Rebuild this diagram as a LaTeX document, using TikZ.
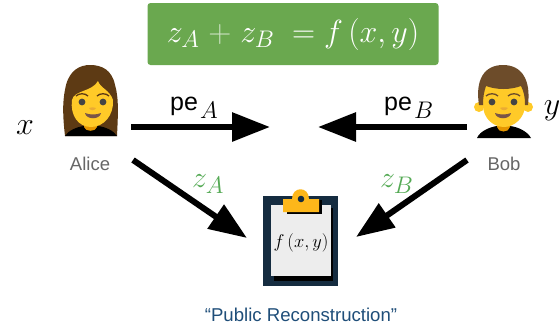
\RequirePackage{fix-cm}
\documentclass[tikz,border=0pt]{standalone}
\usepackage{fontspec}
\setmainfont{Liberation Sans}
\usepackage{amsmath}
\usetikzlibrary{arrows.meta}
\DeclareMathSizes{30}{30}{24}{18}
\DeclareMathSizes{32}{32}{24}{18}
\definecolor{banner}{HTML}{6AA84F}
\definecolor{zgreen}{HTML}{55AA55}
\definecolor{skin}{HTML}{FFCA28}
\definecolor{hairw}{HTML}{5D3A14}
\definecolor{hairm}{HTML}{6D4C2A}
\definecolor{neck}{HTML}{E59600}
\definecolor{board}{HTML}{152C40}
\definecolor{clipc}{HTML}{FDB71A}
\definecolor{paper}{HTML}{EDEDED}
\definecolor{pubblue}{HTML}{1F4E79}
\definecolor{eye}{HTML}{444444}
\definecolor{mouth}{HTML}{795548}
\tikzset{
  flow/.style={line width=6pt,-{Triangle[length=38pt,width=28pt]}},
  who/.style={font=\fontsize{18.5}{20}\selectfont,text=black!60,inner sep=0pt},
  lbl/.style={inner sep=0pt},
  pelbl/.style={inner sep=0pt,anchor=base west,font=\fontsize{25}{28}\selectfont},
  zlbl/.style={inner sep=0pt,anchor=base west,font=\fontsize{30}{34}\selectfont,text=zgreen}
}
\begin{document}
\begin{tikzpicture}[x=1pt,y=-1pt]
\useasboundingbox (0,0) rectangle (559,327);
% banner
\node[fill=banner,rounded corners=3pt,minimum width=291pt,minimum height=62pt,inner sep=0pt,text=white,font=\fontsize{32}{36}\selectfont] (eq) at (293,34) {$z_A\ \textcolor{white!65!banner}{+}\ z_B\ =f\,(x,y)$};
% Alice
\fill[hairw] (65,136) .. controls (62,110) and (63,98) .. (66,85) .. controls (70,70) and (80,65) .. (90,65) .. controls (102,65) and (112,70) .. (115,85) .. controls (119,98) and (118,115) .. (117,136) -- cycle;
\fill[black] (65,136) .. controls (68,131) and (76,127) .. (84,126) -- (98,126) .. controls (106,127) and (114,131) .. (117,136) -- cycle;
\fill[neck] (84,122) -- (97,122) -- (97,127) .. controls (96,132) and (85,132) .. (84,127) -- cycle;
\fill[skin] (72,100) .. controls (74,90) and (92,92) .. (98,81) .. controls (100,88) and (110,90) .. (113,100) .. controls (114,115) and (104,127) .. (91,127) .. controls (78,127) and (70,115) .. (72,100) -- cycle;
\fill[eye] (82,102) circle (3.4pt) (103,102) circle (3.4pt);
\draw[hairw,line width=1.3pt] (76,96) .. controls (79,93) and (85,93) .. (88,96);
\draw[hairw,line width=1.3pt] (97,96) .. controls (100,93) and (106,93) .. (109,96);
\fill[neck!80!white] (89,108) .. controls (91,107) and (94,107) .. (96,108) .. controls (94,111) and (91,111) .. (89,108) -- cycle;
\fill[mouth] (85,113) .. controls (90,115) and (96,115) .. (101,113) .. controls (100,120) and (86,120) .. (85,113) -- cycle;
\node[who] (alice) at (90,164) {Alice};
% Bob
\fill[skin] (479,107) circle (5pt) (528,107) circle (5pt);
\fill[black] (477,138) .. controls (480,131) and (490,127) .. (497,126) -- (510,126) .. controls (518,127) and (527,131) .. (531,138) -- cycle;
\fill[neck] (497,122) -- (510,122) -- (510,127) .. controls (509,133) and (498,133) .. (497,127) -- cycle;
\fill[skin] (483,85) -- (525,85) -- (525,105) .. controls (525,118) and (514,127) .. (504,127) .. controls (493,127) and (483,118) .. (483,105) -- cycle;
\fill[hairm] (479,105) .. controls (475,80) and (484,65) .. (503,65) .. controls (522,65) and (531,80) .. (528,105) -- (525,105) .. controls (525,97) and (524,92) .. (521,86) .. controls (510,90) and (497,90) .. (486,86) .. controls (484,92) and (483,97) .. (483,105) -- cycle;
\fill[eye] (492,102) circle (3.4pt) (514,102) circle (3.4pt);
\draw[hairm,line width=1.3pt] (486,96) .. controls (489,93) and (495,93) .. (498,96);
\draw[hairm,line width=1.3pt] (508,96) .. controls (511,93) and (517,93) .. (520,96);
\fill[neck!80!white] (500,108) .. controls (502,107) and (506,107) .. (508,108) .. controls (506,111) and (502,111) .. (500,108) -- cycle;
\fill[mouth] (495,113) .. controls (500,115) and (506,115) .. (511,113) .. controls (510,120) and (496,120) .. (495,113) -- cycle;
\node[who] (bob) at (504,164) {Bob};
% variables
\node[lbl,font=\fontsize{32}{36}\selectfont] (xv) at (25,128) {$x$};
\node[lbl,font=\fontsize{32}{36}\selectfont] (yv) at (552,111) {$y$};
% clipboard
\fill[board] (263,196) rectangle (338,286);
\fill[black] (274,208) rectangle (333,281);
\fill[paper] (271,205) rectangle (331,276);
\fill[black] (287,200) rectangle (322,214);
\fill[clipc] (283,199) -- (292,199) .. controls (292,186) and (309,186) .. (309,199) -- (319,199) -- (319,212) -- (283,212) -- cycle;
\fill[board] (301,199) circle (3.3pt);
\node[lbl,font=\fontsize{18.5}{20}\selectfont] (fxy) at (301,243) {$f\,(x,y)$};
\node[lbl,font=\fontsize{18.6}{22}\selectfont,text=pubblue] (pub) at (301,315) {“Public Reconstruction”};
% arrow ends
\coordinate (a1) at (131,127); \coordinate (a2) at (270,127);
\coordinate (b1) at (467,127); \coordinate (b2) at (318,127);
\coordinate (c1) at (133,160); \coordinate (c2) at (247,238);
\coordinate (d1) at (467,160); \coordinate (d2) at (356,237);
\draw[flow] (a1) -- (a2);
\draw[flow] (b1) -- (b2);
\draw[flow] (c1) -- (c2);
\draw[flow] (d1) -- (d2);
% arrow labels
\node[pelbl] (pa) at (170,110) {pe\kern2pt\raisebox{-8pt}{\fontsize{24}{26}\selectfont$A$}};
\node[pelbl] (pb) at (384,110) {pe\kern2pt\raisebox{-8pt}{\fontsize{24}{26}\selectfont$B$}};
\node[zlbl] (za) at (192,187) {$z_A$};
\node[zlbl] (zb) at (380,187) {$z_B$};
\end{tikzpicture}
\end{document}
